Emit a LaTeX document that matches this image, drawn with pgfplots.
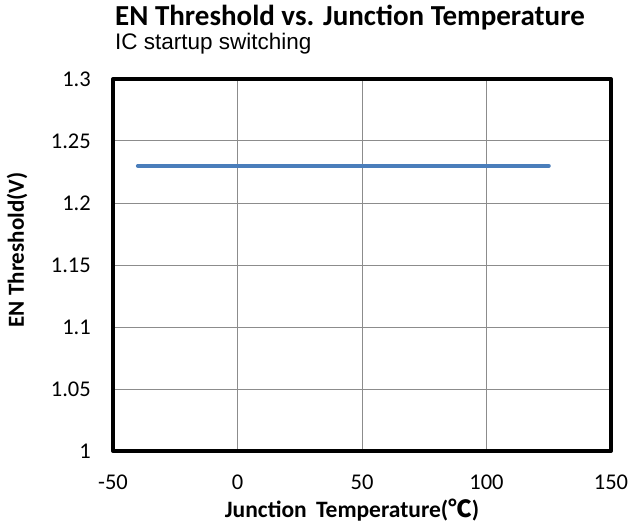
\documentclass[border=0pt]{standalone}
\usepackage{fontspec}
\setmainfont{Carlito}
\newfontfamily\arialf{Liberation Sans}
\newfontfamily\cjk{Noto Sans CJK SC}
\usepackage{pgfplots}
\pgfplotsset{compat=1.18}
\definecolor{serblue}{RGB}{74,126,187}
\begin{document}
\begin{tikzpicture}[x=1pt,y=1pt]
\useasboundingbox (0,0) rectangle (631,525);
\begin{axis}[
  at={(113pt,74pt)}, anchor=south west,
  scale only axis, width=498pt, height=372pt,
  xmin=-50, xmax=150, ymin=1, ymax=1.3,
  xtick={-50,0,50,100,150},
  ytick={1,1.05,1.1,1.15,1.2,1.25,1.3},
  yticklabels={1,1.05,1.1,1.15,1.2,1.25,1.3},
  xticklabels={-50,0,50,100,150},
  major tick length=0pt,
  grid=major,
  major grid style={draw=black!45, line width=1pt},
  axis line style={line width=4pt, black, line join=round},
  tick label style={font=\fontsize{22.5}{22.5}\selectfont, inner sep=0pt},
  yticklabel style={anchor=east, xshift=-22pt},
  xticklabel style={anchor=north, yshift=-24pt},
  /pgf/number format/assume math mode=true,
  clip=false,
]
\addplot[serblue, line width=4pt, line cap=round] coordinates {(-40,1.23) (125,1.23)};
\end{axis}
\node[anchor=base west, inner sep=0pt] at (115,499) {\fontsize{29}{29}\selectfont\bfseries EN Threshold vs. Junction Temperature};
\node[anchor=base west, inner sep=0pt] at (115,475) {\arialf\fontsize{22.5}{22.5}\selectfont IC startup switching};
\node[anchor=base, inner sep=0pt] at (352,8) {\fontsize{23.5}{23.5}\selectfont\bfseries Junction\hspace{4pt} Temperature({\cjk\bfseries ℃})};
\node[rotate=90, anchor=center, inner sep=0pt] at (17,275) {\fontsize{23}{23}\selectfont\bfseries EN Threshold(V)};
\end{tikzpicture}
\end{document}
